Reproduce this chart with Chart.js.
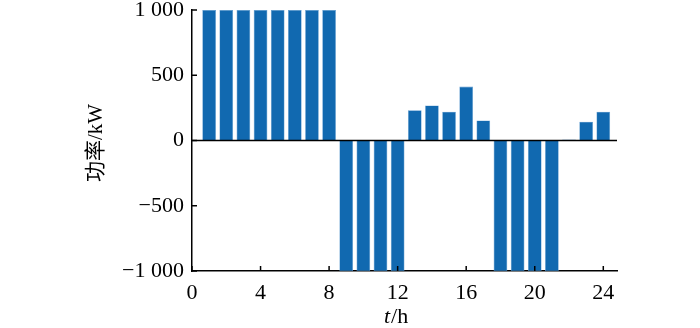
<!DOCTYPE html>
<html>
<head>
<meta charset="utf-8">
<script src="https://cdn.jsdelivr.net/npm/chart.js@4"></script>
<style>
  html, body { margin: 0; padding: 0; background: #fff; }
  #wrap { width: 700px; height: 328px; }
</style>
</head>
<body>
<div id="wrap"><canvas id="powerChart"></canvas></div>
<script>
// Hourly power (kW), hours 1..24
const hours = [1, 2, 3, 4, 5, 6, 7, 8, 9, 10, 11, 12, 13, 14, 15, 16, 17, 18, 19, 20, 21, 22, 23, 24];
const power = [1000, 1000, 1000, 1000, 1000, 1000, 1000, 1000,
               -1000, -1000, -1000, -1000,
               231, 269, 221, 413, 154,
               -1000, -1000, -1000, -1000,
               8, 144, 221];
const xTicks = [0, 4, 8, 12, 16, 20, 24];
const yTicks = [-1000, -500, 0, 500, 1000];

const serif = '"Liberation Serif", "Times New Roman", serif';

function fmt(v) {
    const s = Math.abs(v) >= 1000 ? String(Math.abs(v)).replace(/(\d)(\d{3})$/, '$1 $2') : String(Math.abs(v));
    return (v < 0 ? '\u2212' : '') + s;
}

// inward ticks, zero line and axis titles
const decorations = {
    id: 'decorations',
    afterDatasetsDraw(chart) {
        const ctx = chart.ctx;
        const x = chart.scales.x, y = chart.scales.y;
        const area = chart.chartArea;
        ctx.save();
        ctx.strokeStyle = '#000';
        ctx.lineWidth = 1.5;

        // zero line
        const y0 = y.getPixelForValue(0);
        ctx.beginPath();
        ctx.moveTo(area.left, y0);
        ctx.lineTo(area.right, y0);
        ctx.stroke();

        // y ticks pointing inward
        yTicks.forEach(v => {
            const py = y.getPixelForValue(v);
            ctx.beginPath();
            ctx.moveTo(area.left, py);
            ctx.lineTo(area.left + 5, py);
            ctx.stroke();
        });
        // x ticks pointing inward
        xTicks.forEach(v => {
            const px = x.getPixelForValue(v);
            ctx.beginPath();
            ctx.moveTo(px, area.bottom);
            ctx.lineTo(px, area.bottom - 5);
            ctx.stroke();
        });

        // x title: italic t + /h
        ctx.fillStyle = '#000';
        ctx.textBaseline = 'alphabetic';
        ctx.textAlign = 'left';
        ctx.font = 'italic 22px ' + serif;
        const tW = ctx.measureText('t').width;
        const sx = 384;
        ctx.fillText('t', sx, 323);
        ctx.font = '22px ' + serif;
        ctx.fillText('/h', sx + tW + 1, 323);

        // y title
        ctx.translate(96, 143);
        ctx.rotate(-Math.PI / 2);
        ctx.textAlign = 'center';
        ctx.textBaseline = 'middle';
        ctx.font = '21px ' + serif + ', "Noto Sans CJK SC"';
        ctx.fillText('功率/kW', 0, 0);
        ctx.restore();
    }
};

new Chart(document.getElementById('powerChart'), {
    type: 'bar',
    data: {
        datasets: [{
            data: hours.map((h, i) => ({ x: h, y: power[i] })),
            backgroundColor: '#1169b0',
            borderColor: '#5f9bd0',
            borderWidth: 0.6,
            barPercentage: 0.8,
            categoryPercentage: 1
        }]
    },
    options: {
        responsive: true,
        maintainAspectRatio: false,
        animation: false,
        events: [],
        layout: { padding: { top: 0, right: 83, left: 0, bottom: 0 } },
        plugins: {
            legend: { display: false },
            tooltip: { enabled: false }
        },
        scales: {
            x: {
                type: 'linear',
                offset: false,
                min: 0,
                max: 24.8,
                grid: { display: false, drawTicks: false, offset: false },
                border: { display: true, color: '#000', width: 1.5 },
                afterBuildTicks: s => { s.ticks = xTicks.map(v => ({ value: v })); },
                afterFit: s => { s.height = 57; },
                ticks: {
                    color: '#000',
                    padding: 9,
                    maxRotation: 0,
                    font: { family: serif, size: 22 },
                    callback: v => String(v)
                }
            },
            y: {
                min: -1000,
                max: 1000,
                grid: { display: false, drawTicks: false },
                border: { display: true, color: '#000', width: 1.5 },
                afterBuildTicks: s => { s.ticks = yTicks.map(v => ({ value: v })); },
                afterFit: s => { s.width = 192; s.paddingTop = 10; s.paddingBottom = 0; },
                ticks: {
                    color: '#000',
                    padding: 8,
                    font: { family: serif, size: 22 },
                    callback: v => fmt(v)
                }
            }
        }
    },
    plugins: [decorations]
});
</script>
</body>
</html>
